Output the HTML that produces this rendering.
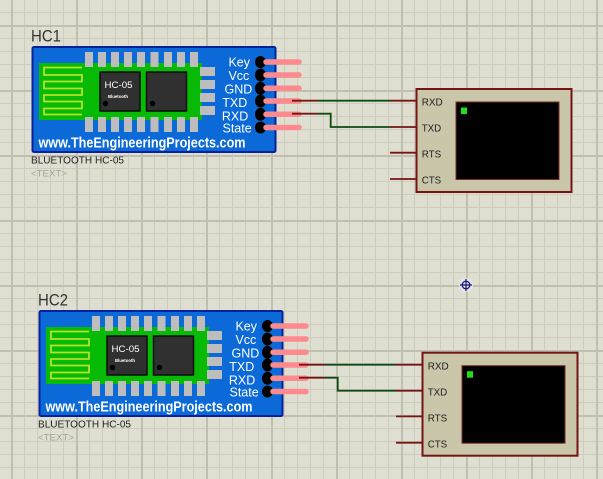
<!DOCTYPE html>
<html>
<head>
<meta charset="utf-8">
<style>
html,body{margin:0;padding:0;background:#dfdfd1;}
svg{display:block;font-family:"Liberation Sans",sans-serif;}
</style>
</head>
<body>
<svg width="603" height="479" viewBox="0 0 603 479" xmlns="http://www.w3.org/2000/svg">
<defs>
<pattern id="minor" x="11" y="12" width="13" height="13" patternUnits="userSpaceOnUse">
<rect x="0" y="0" width="1" height="13" fill="#cdcdbf"/>
<rect x="0" y="0" width="13" height="1" fill="#cdcdbf"/>
</pattern>
<pattern id="major" x="11" y="25" width="65" height="65" patternUnits="userSpaceOnUse">
<rect x="0" y="0" width="2" height="65" fill="#c0c0b1"/>
<rect x="0" y="0" width="65" height="2" fill="#c0c0b1"/>
</pattern>
<g id="mod">
<rect x="32.500" y="47" width="243" height="105" rx="1.500" fill="#0b6ad8" stroke="#0a1f9a" stroke-width="2"/>
<rect x="39" y="63" width="163" height="57" fill="#06ba06"/>
<g fill="#bdbdbd">
<rect x="85" y="52" width="8" height="15"/><rect x="98" y="52" width="8" height="15"/><rect x="111" y="52" width="8" height="15"/><rect x="124" y="52" width="8" height="15"/><rect x="137" y="52" width="8" height="15"/><rect x="150.500" y="52" width="8" height="15"/><rect x="164" y="52" width="8" height="15"/><rect x="177" y="52" width="8" height="15"/><rect x="190" y="52" width="8" height="15"/>
<rect x="85" y="117" width="8" height="15"/><rect x="98" y="117" width="8" height="15"/><rect x="111" y="117" width="8" height="15"/><rect x="124" y="117" width="8" height="15"/><rect x="137" y="117" width="8" height="15"/><rect x="150.500" y="117" width="8" height="15"/><rect x="164" y="117" width="8" height="15"/><rect x="177" y="117" width="8" height="15"/><rect x="190" y="117" width="8" height="15"/>
<rect x="200" y="67" width="15" height="9"/><rect x="200" y="80" width="15" height="9"/><rect x="200" y="93" width="15" height="9"/><rect x="200" y="106" width="15" height="9"/>
</g>
<path d="M82 67.500H44V75H82V81.500H44V88.500H82V95H44V101.500H82V108.500H44V114.500H82" fill="none" stroke="#b5e22a" stroke-width="1.800"/>
<rect x="100" y="72" width="40" height="39" fill="#303030" stroke="#0c0c0c" stroke-width="1.500"/>
<rect x="146.500" y="72" width="40" height="39" fill="#303030" stroke="#0c0c0c" stroke-width="1.500"/>
<circle cx="105.500" cy="103.500" r="2.700" fill="#000"/>
<circle cx="152.500" cy="103.500" r="2.700" fill="#000"/>
<text x="104.500" y="88" font-size="9.500" fill="#fff" textLength="28" lengthAdjust="spacingAndGlyphs">HC-05</text>
<text x="108" y="98" font-size="4.800" font-weight="bold" fill="#fff" textLength="20" lengthAdjust="spacingAndGlyphs">Bluetooth</text>
<text x="38.500" y="147.300" font-size="14.500" font-weight="bold" fill="#fff" textLength="207" lengthAdjust="spacingAndGlyphs">www.TheEngineeringProjects.com</text>
<g font-size="12.500" fill="#fff" text-anchor="end">
<text x="250" y="66.500">Key</text>
<text x="249.300" y="80">Vcc</text>
<text x="252.300" y="93.300">GND</text>
<text x="247.300" y="107">TXD</text>
<text x="248.300" y="120.500">RXD</text>
<text x="251.700" y="132.700">State</text>
</g>
<g fill="#000">
<ellipse cx="260.500" cy="62" rx="5.500" ry="6"/><ellipse cx="260.500" cy="75" rx="5.500" ry="6.500"/><ellipse cx="260.500" cy="88.300" rx="5.500" ry="6.500"/><ellipse cx="260.500" cy="101" rx="5.500" ry="6.500"/><ellipse cx="260.500" cy="114.300" rx="5.500" ry="6.500"/><ellipse cx="260.500" cy="127.500" rx="5.500" ry="6"/>
</g>
<g stroke="#ff8a8e" stroke-width="5.500" stroke-linecap="round">
<path d="M266 62H299M266 75H299M266 88.300H299M266 101H299M266 114.300H299M266 127.500H299"/>
</g>
<text x="31" y="163.300" font-size="10.500" fill="#222" textLength="93" lengthAdjust="spacingAndGlyphs">BLUETOOTH HC-05</text>
<text x="31" y="176.500" font-size="9.500" fill="#a2a296" textLength="36" lengthAdjust="spacingAndGlyphs">&lt;TEXT&gt;</text>
</g>
<g id="term">
<rect x="416.500" y="89" width="155" height="103" fill="#c9c6aa" stroke="#741414" stroke-width="2"/>
<rect x="456" y="102" width="103" height="77.500" fill="#000" stroke="#7a2a22" stroke-width="1"/>
<rect x="461" y="107.500" width="6" height="6.500" fill="#1de01d"/>
<path d="M390 152.700H416M390 179H416" stroke="#741414" stroke-width="1.800"/>
<g font-size="10.500" fill="#222">
<text x="421.700" y="105.700" textLength="21" lengthAdjust="spacingAndGlyphs">RXD</text>
<text x="421.700" y="131.700" textLength="19.500" lengthAdjust="spacingAndGlyphs">TXD</text>
<text x="421.700" y="157.700" textLength="19.500" lengthAdjust="spacingAndGlyphs">RTS</text>
<text x="421.700" y="183.700" textLength="19.500" lengthAdjust="spacingAndGlyphs">CTS</text>
</g>
</g>
</defs>
<rect width="603" height="479" fill="#dfdfd1"/>
<rect width="603" height="479" fill="url(#minor)" shape-rendering="crispEdges"/>
<rect width="603" height="479" fill="url(#major)" shape-rendering="crispEdges"/>

<text x="31" y="41.700" font-size="16.500" fill="#333" textLength="30" lengthAdjust="spacingAndGlyphs">HC1</text>
<use href="#mod"/>
<use href="#term"/>
<path d="M292 100.700H318M390 100.700H416M292 113.700H318M390 127H416" stroke="#741414" stroke-width="1.800" fill="none"/>
<path d="M318 100.700H390M318 113.700H330.700V127H390" stroke="#0e4a12" stroke-width="1.800" fill="none"/>

<text x="38" y="305.700" font-size="16.500" fill="#333" textLength="30" lengthAdjust="spacingAndGlyphs">HC2</text>
<use href="#mod" transform="translate(7,264)"/>
<use href="#term" transform="translate(6,263.700)"/>
<path d="M299 364.700H325M396 364.700H422M299 377.700H325M396 390.700H422" stroke="#741414" stroke-width="1.800" fill="none"/>
<path d="M325 364.700H396M325 377.700H337.700V390.700H396" stroke="#0e4a12" stroke-width="1.800" fill="none"/>

<circle cx="466" cy="285" r="7" fill="#e2e2ea"/>
<circle cx="466" cy="285" r="3.800" fill="none" stroke="#14146e" stroke-width="1.200"/>
<path d="M460 285H472M466 279V291" stroke="#14146e" stroke-width="1.200"/>
</svg>
</body>
</html>
